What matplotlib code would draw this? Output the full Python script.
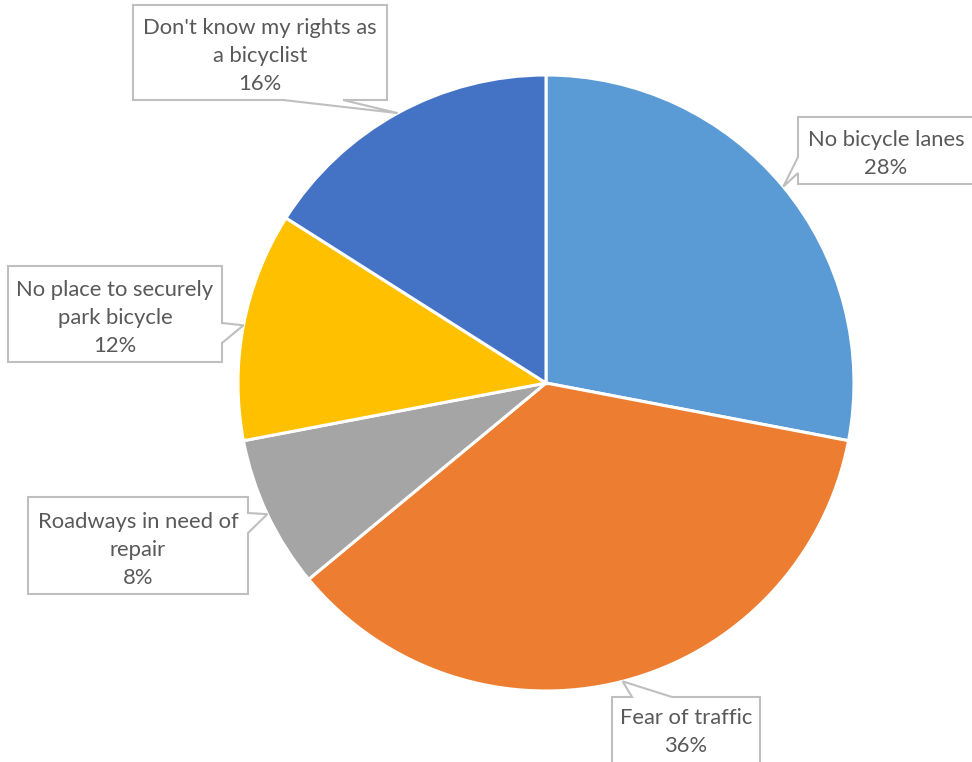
import numpy as np
import matplotlib
matplotlib.use("Agg")
import matplotlib.pyplot as plt
from matplotlib.patches import Polygon

categories = ["No bicycle lanes", "Fear of traffic", "Roadways in need of\nrepair",
              "No place to securely\npark bicycle", "Don't know my rights as\na bicyclist"]
values = [28, 36, 8, 12, 16]
colors = ["#5B9BD5", "#ED7D31", "#A5A5A5", "#FFC000", "#4472C4"]

W, H = 972, 762
fig = plt.figure(figsize=(W / 100, H / 100), dpi=100)
ax = fig.add_axes([0, 0, 1, 1])

cx, cy_px, R = 546, 383, 308
cy = H - cy_px
wedges, _ = ax.pie(values, colors=colors, startangle=90, counterclock=False,
                   center=(cx, cy), radius=R,
                   wedgeprops=dict(edgecolor="white", linewidth=2.2))
ax.set_xlim(0, W)
ax.set_ylim(0, H)
ax.set_aspect("equal")
ax.axis("off")

# callout layout in pixel coords: box (x0, y0, x1, y1), side, base segment along side
layout = [
    ((798, 117, 985, 184), "left", (157, 173)),
    ((612, 697, 760, 775), "top", (632, 672)),
    ((28, 497, 248, 594), "right", (513, 533)),
    ((8, 266, 222, 362), "right", (323, 343)),
    ((133, 5, 387, 100), "bottom", (283, 343)),
]

total = sum(values)
cum = 0
for cat, v, (box, side, base) in zip(categories, values, layout):
    mid = 90 - 360 * (cum + v / 2) / total
    cum += v
    tx = cx + R * np.cos(np.radians(mid))
    ty = cy + R * np.sin(np.radians(mid))
    tip = (tx, H - ty)
    x0, y0, x1, y1 = box
    a, b = base
    if side == "bottom":
        pts = [(x0, y0), (x1, y0), (x1, y1), (b, y1), tip, (a, y1), (x0, y1)]
    elif side == "left":
        pts = [(x0, y0), (x1, y0), (x1, y1), (x0, y1), (x0, b), tip, (x0, a)]
    elif side == "right":
        pts = [(x0, y0), (x1, y0), (x1, a), tip, (x1, b), (x1, y1), (x0, y1)]
    else:  # top
        pts = [(x0, y0), (a, y0), tip, (b, y0), (x1, y0), (x1, y1), (x0, y1)]
    pts = [(px, H - py) for px, py in pts]
    ax.add_patch(Polygon(pts, closed=True, facecolor="white", edgecolor="#BFBFBF",
                         linewidth=1.5, zorder=5, clip_on=False))
    label = f"{cat}\n{v}%"
    if side == "top":
        xc, yc = (x0 + x1) / 2, (y0 + 762) / 2 - 1
    elif side == "left":
        xc, yc = (x0 + 972) / 2 + 1, (y0 + y1) / 2
    else:
        xc, yc = (x0 + x1) / 2, (y0 + y1) / 2
    yc += 4
    ax.text(xc, H - yc, label, ha="center", va="center", fontsize=15.8,
            family=["Lato", "DejaVu Sans"], color="#595959", linespacing=1.5, zorder=6)

fig.savefig("out.png", dpi=100)
